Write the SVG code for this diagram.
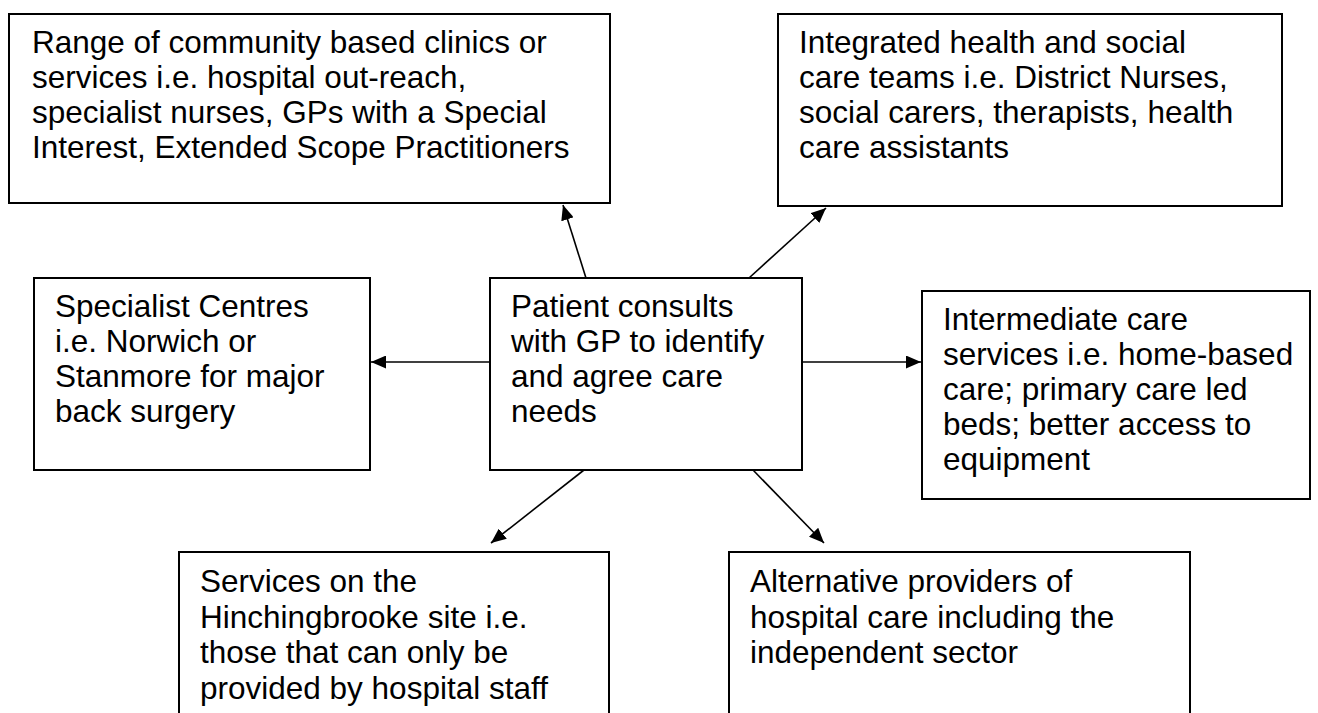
<svg xmlns="http://www.w3.org/2000/svg" width="1318" height="713" viewBox="0 0 1318 713">
<defs>
<marker id="ah" markerWidth="15" markerHeight="13" refX="15" refY="6.5" orient="auto" markerUnits="userSpaceOnUse">
<path d="M0,0 L15,6.5 L0,13 Z" fill="#000"/>
</marker>
<style>
.box{fill:#fff;stroke:#000;stroke-width:2}
.t{font-family:"Liberation Sans",Arial,sans-serif;font-size:31.5px;fill:#000}
.c{stroke:#000;stroke-width:1.6;fill:none;marker-end:url(#ah)}
</style>
</defs>
<rect width="1318" height="713" fill="#fff"/>
<g id="n1"><rect class="box" x="9" y="14" width="601" height="189"/>
<text class="t" y="53"><tspan x="32">Range of community based clinics or</tspan><tspan x="32" dy="35">services i.e. hospital out-reach,</tspan><tspan x="32" dy="35">specialist nurses, GPs with a Special</tspan><tspan x="32" dy="35">Interest, Extended Scope Practitioners</tspan></text></g>
<g id="n2"><rect class="box" x="778" y="14" width="504" height="192"/>
<text class="t" y="53"><tspan x="799">Integrated health and social</tspan><tspan x="799" dy="35">care teams i.e. District Nurses,</tspan><tspan x="799" dy="35">social carers, therapists, health</tspan><tspan x="799" dy="35">care assistants</tspan></text></g>
<g id="n3"><rect class="box" x="34" y="278" width="336" height="192"/>
<text class="t" y="317"><tspan x="55">Specialist Centres</tspan><tspan x="55" dy="35">i.e. Norwich or</tspan><tspan x="55" dy="35">Stanmore for major</tspan><tspan x="55" dy="35">back surgery</tspan></text></g>
<g id="n4"><rect class="box" x="490" y="278" width="312" height="192"/>
<text class="t" y="317"><tspan x="511">Patient consults</tspan><tspan x="511" dy="35">with GP to identify</tspan><tspan x="511" dy="35">and agree care</tspan><tspan x="511" dy="35">needs</tspan></text></g>
<g id="n5"><rect class="box" x="922" y="291" width="388" height="208"/>
<text class="t" y="330"><tspan x="943">Intermediate care</tspan><tspan x="943" dy="35">services i.e. home-based</tspan><tspan x="943" dy="35">care; primary care led</tspan><tspan x="943" dy="35">beds; better access to</tspan><tspan x="943" dy="35">equipment</tspan></text></g>
<g id="n6"><rect class="box" x="179" y="552" width="430" height="180"/>
<text class="t" y="592"><tspan x="200">Services on the</tspan><tspan x="200" dy="35.5">Hinchingbrooke site i.e.</tspan><tspan x="200" dy="35.5">those that can only be</tspan><tspan x="200" dy="35.5">provided by hospital staff</tspan></text></g>
<g id="n7"><rect class="box" x="729" y="552" width="461" height="180"/>
<text class="t" y="592"><tspan x="750">Alternative providers of</tspan><tspan x="750" dy="35.5">hospital care including the</tspan><tspan x="750" dy="35.5">independent sector</tspan></text></g>
<g id="connectors">
<line class="c" x1="586" y1="278" x2="563" y2="205"/>
<line class="c" x1="749" y1="278" x2="826" y2="208"/>
<line class="c" x1="490" y1="362" x2="371" y2="362"/>
<line class="c" x1="802" y1="362" x2="921" y2="362"/>
<line class="c" x1="584" y1="470" x2="491" y2="543"/>
<line class="c" x1="753" y1="470" x2="824" y2="543"/>
</g>
</svg>
